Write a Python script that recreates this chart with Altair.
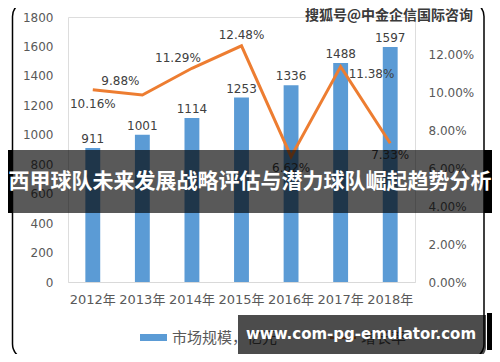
import altair as alt
import pandas as pd

years = ["2012年", "2013年", "2014年", "2015年", "2016年", "2017年", "2018年"]
market = [911, 1001, 1114, 1253, 1336, 1488, 1597]
growth_pct = [10.16, 9.88, 11.29, 12.48, 6.62, 11.38, 7.33]
left_ticks = [0, 200, 400, 600, 800, 1000, 1200, 1400, 1600, 1800]
right_ticks = [0.0, 0.02, 0.04, 0.06, 0.08, 0.10, 0.12]

title_text = "西甲球队未来发展战略评估与潜力球队崛起趋势分析"
watermark_text = "搜狐号@中金企信国际咨询"
site_text = "www.com-pg-emulator.com"
legend_bar = "市场规模，亿元"
legend_line = "增长率"

df = pd.DataFrame({
    "year": years,
    "market": market,
    "growth": [g / 100 for g in growth_pct],
    "glabel": [f"{g:.2f}%" for g in growth_pct],
})

W, H = 347, 265
PL, PT = 60, 9
TOTW, TOTH = 484, 346
OX, OY = 68, 17  # absolute page position of plot origin

def rx(a):
    return a - OX

def ry(a):
    return a - OY

FONT = "DejaVu Sans, Noto Sans CJK SC"
CJK = "Noto Sans CJK SC"
GRAY = "#595959"
BLUE = "#5B9BD5"
ORANGE = "#ED7D31"

xenc = alt.X("year:N", sort=years,
             scale=alt.Scale(paddingInner=0.7, paddingOuter=0.35),
             axis=alt.Axis(title=None, labelAngle=0, ticks=False, domainColor="#D9D9D9",
                           domainWidth=1, labelColor=GRAY, labelFont=FONT, labelFontSize=13,
                           labelPadding=11))

yleft = alt.Y("market:Q", scale=alt.Scale(domain=[0, 1800], nice=False),
              axis=alt.Axis(title=None, values=left_ticks, format="d", grid=False, ticks=False,
                            domain=False, labelColor=GRAY, labelFont=FONT, labelFontSize=12,
                            labelPadding=15))
yright = alt.Y("growth:Q", scale=alt.Scale(domain=[0, 0.14], nice=False),
               axis=alt.Axis(title=None, orient="right", values=right_ticks, format=".2%",
                             grid=False, ticks=False, domain=False, labelColor=GRAY,
                             labelFont=FONT, labelFontSize=12, labelPadding=13))

base = alt.Chart(df)
bars = base.mark_bar(color=BLUE).encode(x=xenc, y=yleft)
bar_labels = base.mark_text(baseline="alphabetic", dy=-5, font=FONT, fontSize=12,
                            color="#404040").encode(x=xenc, y=yleft, text="market:Q")
left_layer = alt.layer(bars, bar_labels)

line = base.mark_line(color=ORANGE, strokeWidth=3).encode(x=xenc, y=yright)

def glabels(sel, dx, dy, align="center"):
    return base.mark_text(baseline="middle", align=align, dx=dx, dy=dy, font=FONT,
                          fontSize=12, color="#404040").encode(
        x=xenc, y=yright, text="glabel:N"
    ).transform_filter(alt.FieldOneOfPredicate(field="year", oneOf=sel))

right_layer = alt.layer(
    line,
    glabels(["2012年"], 0, 14),
    glabels(["2013年"], -22, -14),
    glabels(["2014年"], -14, -10),
    glabels(["2015年"], 0, -11),
    glabels(["2016年"], 0, 11),
    glabels(["2017年"], 8, 7, "left"),
    glabels(["2018年"], 0, 12),
)

one = pd.DataFrame({"d": [0]})

def rect(x1, x2, y1, y2, **kw):
    return alt.Chart(one).mark_rect(**kw).encode(
        x=alt.value(rx(x1)), x2=alt.value(rx(x2)), y=alt.value(ry(y1)), y2=alt.value(ry(y2)))

def text(t, x, y, **kw):
    return alt.Chart(one).mark_text(text=t, **kw).encode(x=alt.value(rx(x)), y=alt.value(ry(y)))

frame = rect(12.5, 484, 1.5, 359, fillOpacity=0, stroke="#000000", strokeWidth=1.5,
             cornerRadius=15)

banner = rect(13, 484, 150, 213, color="#000000", opacity=0.65)
banner_l = rect(8, 13, 150, 213, color="#000000")
banner_r = rect(484, 493, 150, 213, color="#000000")
banner_t = text(title_text, 250, 182, font=CJK, fontSize=21, fontWeight="bold",
                color="#FFFFFF", align="center", baseline="middle")

leg_rect = rect(140, 167, 334, 341, color=BLUE)
leg_text = text(legend_bar, 172, 337.5, font=CJK, fontSize=15, color=GRAY,
                align="left", baseline="middle")
leg_line = rect(330, 356, 336.5, 339, color=ORANGE)
leg_text2 = text(legend_line, 361, 337.5, font=CJK, fontSize=15, color=GRAY,
                 align="left", baseline="middle")

box = rect(238, 486, 315, 359, color="#000000", opacity=0.7, cornerRadiusBottomRight=12)
box_strip = rect(487, 493, 313, 350, color="#000000")
box_t = text(site_text, 361, 334, font="DejaVu Sans", fontSize=15, fontWeight="bold",
             color="#FFFFFF", align="center", baseline="middle")

wm = text(watermark_text, 473, 15.5, font=CJK, fontSize=14, fontWeight="bold",
          color="#3A3A3A", align="right", baseline="middle")

chart = alt.layer(
    frame,
    left_layer,
    right_layer,
    banner, banner_l, banner_r, banner_t,
    leg_rect, leg_text, leg_line, leg_text2,
    box, box_strip, box_t,
    wm,
).resolve_scale(y="independent").properties(
    width=W, height=H,
    padding={"left": PL, "top": PT, "right": TOTW - PL - W, "bottom": TOTH - PT - H},
    autosize=alt.AutoSizeParams(type="none"),
).configure_view(stroke=None).configure(background="#FFFFFF")

chart.save("out.html", embed_options={"renderer": "svg", "actions": False})
